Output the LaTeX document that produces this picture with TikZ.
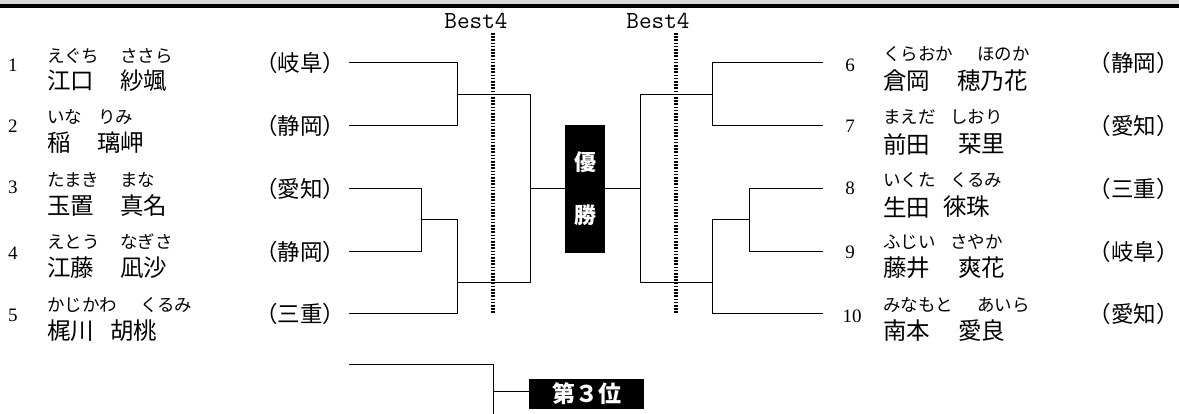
\documentclass[tikz,border=0pt]{standalone}
\usepackage{fontspec}
\newfontfamily\jp{Noto Sans CJK JP}
\newfontfamily\numfont{Liberation Serif}
\definecolor{bandgray}{HTML}{D9D9D9}
\tikzset{
  furi/.style={font=\jp\fontsize{17.5}{17.5}\selectfont, anchor=west, inner sep=0pt},
  nm/.style={font=\jp\fontsize{23.5}{23.5}\selectfont, anchor=west, inner sep=0pt},
  pref/.style={font=\jp\fontsize{22.5}{22.5}\selectfont, inner sep=0pt},
  prefR/.style={pref, anchor=east},
  num/.style={font=\numfont\fontsize{19}{19}\selectfont, inner sep=0pt},
  wire/.style={line width=1pt},
  dotline/.style={line width=3.2pt, dash pattern=on 1.6pt off 1.6pt},
  best/.style={font=\ttfamily\fontsize{24.5}{24.5}\selectfont, inner sep=0pt},
  blackbox/.style={fill=black, inner sep=0pt, draw=none},
  whitetxt/.style={text=white, font=\jp\bfseries\fontsize{22}{22}\selectfont, inner sep=0pt}
}
\begin{document}
\begin{tikzpicture}[x=1pt,y=-1pt]
\useasboundingbox (0,0) rectangle (1179,414);
\fill[bandgray] (0,0) rectangle (1179,4.3);
\fill[black] (0,4.3) rectangle (1179,7.6);

% Best4 labels and dotted lines
\node[best] (bestL) at (476,21) {Best4};
\node[best] (bestR) at (658,21) {Best4};
\coordinate (dL1) at (493,33); \coordinate (dL2) at (493,314);
\coordinate (dR1) at (676,33); \coordinate (dR2) at (676,314);
\draw[dotline] (dL1) -- (dL2);
\draw[dotline] (dR1) -- (dR2);

% central boxes
\node[blackbox, minimum width=40pt, minimum height=128pt] (yusho) at (585,189) {};
\node[whitetxt] (yu1) at (585,162) {優};
\node[whitetxt] (yu2) at (585,215) {勝};
\node[blackbox, minimum width=115pt, minimum height=30pt] (third) at (586.5,394) {};
\node[whitetxt, font=\jp\bfseries\fontsize{23}{23}\selectfont] (thirdtxt) at (587,394) {第３位};

% left bracket
\coordinate (L1) at (349,63);  \coordinate (L2) at (349,126);
\coordinate (L3) at (349,189); \coordinate (L4) at (349,252);
\coordinate (L5) at (349,314);
\draw[wire] (L1) -| (457,126) -- (L2);
\draw[wire] (457,95) -| (530,283) -- (457,283);
\draw[wire] (L3) -| (421,252) -- (L4);
\draw[wire] (421,220) -| (457,314) -- (L5);
\draw[wire] (530,189) -- (yusho.west |- 530,189);

% right bracket
\coordinate (R6) at (823,63);  \coordinate (R7) at (823,126);
\coordinate (R8) at (823,189); \coordinate (R9) at (823,252);
\coordinate (R10) at (823,314);
\draw[wire] (R6) -| (712,126) -- (R7);
\draw[wire] (712,95) -| (640,283) -- (712,283);
\draw[wire] (R8) -| (749,252) -- (R9);
\draw[wire] (749,220) -| (712,314) -- (R10);
\draw[wire] (640,189) -- (yusho.east |- 640,189);

% third place bracket
\coordinate (T1) at (349,364); \coordinate (T2) at (493,414);
\draw[wire] (T1) -| (T2);
\draw[wire] (493,391) -- (third.west |- 493,391);

% left players
\node[num] (n1) at (13,65) {1};
\node[furi] (f1a) at (47,56) {えぐち}; \node[furi] (f1b) at (120,56) {ささら};
\node[nm] (m1a) at (47,81) {江口}; \node[nm] (m1b) at (120,81) {紗颯};
\node[pref] (p1) at (300,63) {（岐阜）};

\node[num] (n2) at (13,126) {2};
\node[furi] (f2a) at (47,117) {いな}; \node[furi] (f2b) at (98,117) {りみ};
\node[nm] (m2a) at (47,143) {稲}; \node[nm] (m2b) at (97,143) {璃岬};
\node[pref] (p2) at (300,126) {（静岡）};

\node[num] (n3) at (13,187) {3};
\node[furi] (f3a) at (47,180) {たまき}; \node[furi] (f3b) at (120,180) {まな};
\node[nm] (m3a) at (47,206) {玉置}; \node[nm] (m3b) at (120,206) {真名};
\node[pref] (p3) at (300,189) {（愛知）};

\node[num] (n4) at (13,253) {4};
\node[furi] (f4a) at (47,242) {えとう}; \node[furi] (f4b) at (120,242) {なぎさ};
\node[nm] (m4a) at (47,268) {江藤}; \node[nm] (m4b) at (120,268) {凪沙};
\node[pref] (p4) at (300,252) {（静岡）};

\node[num] (n5) at (13,315) {5};
\node[furi] (f5a) at (47,305) {かじかわ}; \node[furi] (f5b) at (140,305) {くるみ};
\node[nm] (m5a) at (47,331) {梶川}; \node[nm] (m5b) at (110,331) {胡桃};
\node[pref] (p5) at (300,314) {（三重）};

% right players
\node[num] (n6) at (850,65) {6};
\node[furi] (f6a) at (883,54) {くらおか}; \node[furi] (f6b) at (977,54) {ほのか};
\node[nm] (m6a) at (883,81) {倉岡}; \node[nm] (m6b) at (957,81) {穂乃花};
\node[prefR] (p6) at (1179,63) {（静岡）};

\node[num] (n7) at (850,126) {7};
\node[furi] (f7a) at (883,117) {まえだ}; \node[furi] (f7b) at (950,117) {しおり};
\node[nm] (m7a) at (883,144) {前田}; \node[nm] (m7b) at (958,144) {栞里};
\node[prefR] (p7) at (1179,126) {（愛知）};

\node[num] (n8) at (850,188) {8};
\node[furi] (f8a) at (883,180) {いくた}; \node[furi] (f8b) at (950,180) {くるみ};
\node[nm] (m8a) at (883,207) {生田}; \node[nm] (m8b) at (943,207) {徠珠};
\node[prefR] (p8) at (1179,189) {（三重）};

\node[num] (n9) at (850,252) {9};
\node[furi] (f9a) at (883,242) {ふじい}; \node[furi] (f9b) at (950,242) {さやか};
\node[nm] (m9a) at (883,268) {藤井}; \node[nm] (m9b) at (958,268) {爽花};
\node[prefR] (p9) at (1179,252) {（岐阜）};

\node[num] (n10) at (852,316) {10};
\node[furi] (f10a) at (883,305) {みなもと}; \node[furi] (f10b) at (977,305) {あいら};
\node[nm] (m10a) at (883,331) {南本}; \node[nm] (m10b) at (958,331) {愛良};
\node[prefR] (p10) at (1179,314) {（愛知）};
\end{tikzpicture}
\end{document}
